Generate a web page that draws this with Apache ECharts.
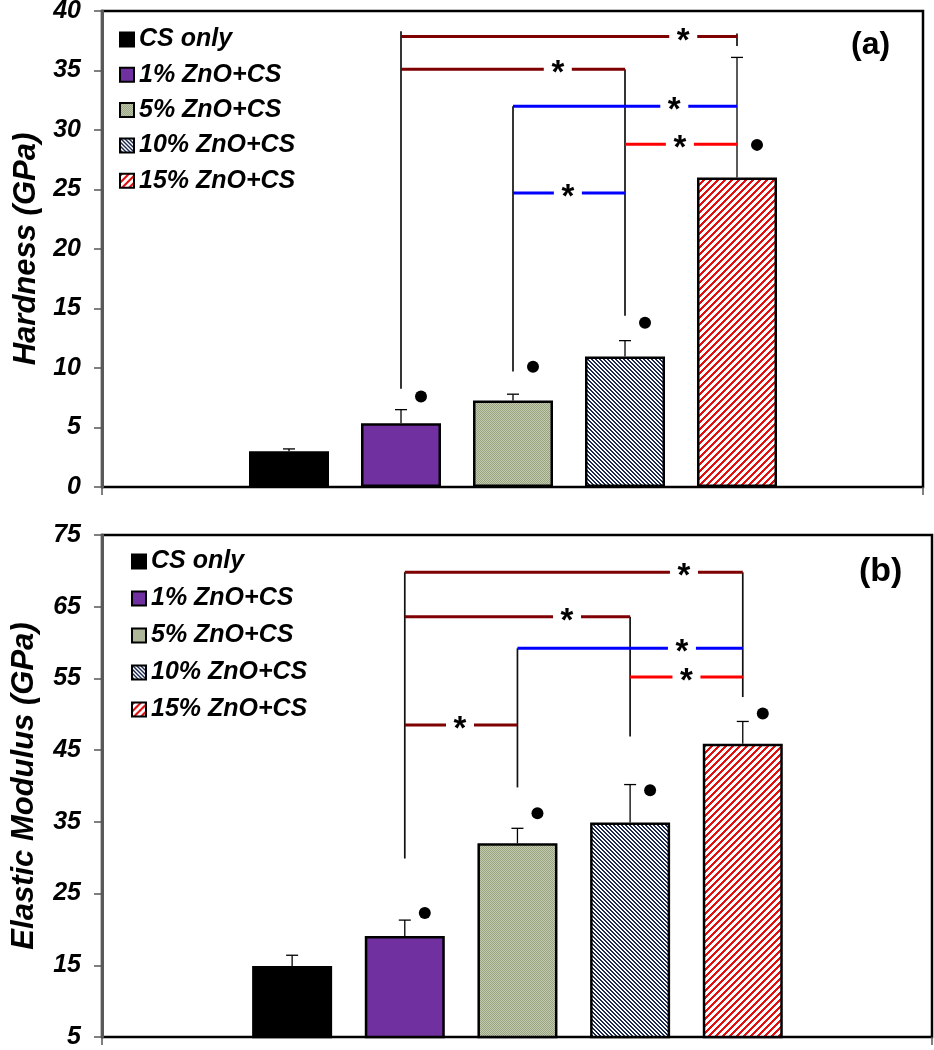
<!DOCTYPE html>
<html><head><meta charset="utf-8">
<script src="https://cdn.jsdelivr.net/npm/echarts@6/dist/echarts.min.js"></script>
<style>html,body{margin:0;padding:0;background:#fff}#c{width:934px;height:1050px}</style>
</head><body><div id="c"></div>
<script>
// ---------- data ----------
const categories = ['CS only', '1% ZnO+CS', '5% ZnO+CS', '10% ZnO+CS', '15% ZnO+CS'];

const hardness       = [3.0, 5.35, 7.27, 10.96, 26.0];
const hardnessErrTop = [3.2, 6.5, 7.8, 12.3, 36.1];
const hardnessDots   = [null, 7.6, 10.1, 13.8, 28.75];
// [fromCategory, toCategory, y, star position (fraction), colour]
const hardnessBrackets = [
  [1, 4, 37.85, 0.84, 'maroon'],
  [1, 3, 35.1, 0.70, 'maroon'],
  [2, 4, 32.0, 0.72, 'blue'],
  [3, 4, 28.8, 0.49, 'red'],
  [2, 3, 24.7, 0.49, 'blue']
];
// [category, yTop, yBottom]
const hardnessVerticals = [[1, 38.3, 8.25], [2, 32.0, 9.7], [3, 35.1, 14.4], [4, 38.1, 37.05]];

const modulus       = [14.9, 19.1, 32.0, 34.9, 45.9];
const modulusErrTop = [16.4, 21.3, 34.1, 40.2, 49.0];
const modulusDots   = [null, 22.3, 36.2, 39.4, 50.1];
const modulusBrackets = [
  [1, 4, 69.8, 0.826, 'maroon'],
  [1, 3, 63.6, 0.72, 'maroon'],
  [2, 4, 59.2, 0.73, 'blue'],
  [3, 4, 55.2, 0.50, 'red'],
  [1, 2, 48.5, 0.49, 'maroon']
];
const modulusVerticals = [[1, 69.8, 29.9], [2, 59.2, 39.8], [3, 63.6, 46.9], [4, 69.8, 52.4]];

const hardnessTicks = {min: 0, max: 40, interval: 5};
const modulusTicks  = {min: 5, max: 75, interval: 10};

// ---------- styles ----------
const FONT = '"Liberation Sans", Arial, sans-serif';
const bracketColors = {maroon: '#7f0000', blue: '#0000ff', red: '#ff0000'};

function makePattern(w, h, fn) {
  const c = document.createElement('canvas'); c.width = w; c.height = h;
  const g = c.getContext('2d');
  for (let x = 0; x < w; x++) for (let y = 0; y < h; y++) { g.fillStyle = fn(x, y); g.fillRect(x, y, 1, 1); }
  return {image: c, repeat: 'repeat'};
}
const fills = [
  '#000000',
  '#7030a0',
  makePattern(2, 2, (x, y) => ((x + y) % 2 === 0 ? '#97a27f' : '#c4cbb1')),
  makePattern(4, 4, (x, y) => (((x - y) % 4 + 4) % 4 < 2 ? '#1c2950' : '#ffffff')),
  makePattern(7, 7, (x, y) => ((x + y) % 7 < 3 ? '#e01010' : '#ffffff'))
];

const chart = echarts.init(document.getElementById('c'), null, {renderer: 'canvas'});

function frameX(grid) {
  return {gridIndex: grid, type: 'category', data: [''], boundaryGap: true,
    axisLine: {show: false}, axisLabel: {show: false},
    axisTick: {show: true, inside: false, length: 8, lineStyle: {color: '#555', width: 1.5}},
    splitLine: {show: false}};
}
function barX(grid) {
  return {gridIndex: grid, type: 'category', data: categories, show: false, boundaryGap: true};
}
function frameY(grid, t, name, gap) {
  return {gridIndex: grid, type: 'value', min: t.min, max: t.max, interval: t.interval,
    axisLine: {show: true, lineStyle: {color: '#595959', width: 3}}, z: 5,
    axisTick: {show: true, inside: false, length: 8, lineStyle: {color: '#555', width: 1.5}},
    axisLabel: {margin: 21, color: '#000', fontSize: 25, fontWeight: 'bold', fontStyle: 'italic', fontFamily: FONT},
    splitLine: {show: false},
    name: name, nameLocation: 'middle', nameRotate: 90, nameGap: gap,
    nameTextStyle: {color: '#000', fontSize: 31, fontWeight: 'bold', fontStyle: 'italic', fontFamily: FONT}};
}
function barY(grid, t) {
  return {gridIndex: grid, type: 'value', min: t.min, max: t.max, interval: t.interval, show: false, splitLine: {show: false}};
}

function panelSeries(xi, yi, vals, errTop, dots, brackets, verticals) {
  const out = [];
  categories.forEach((name, i) => {
    out.push({
      type: 'bar', name: name, xAxisIndex: xi, yAxisIndex: yi,
      barWidth: 80, barGap: '-100%',
      itemStyle: {color: fills[i], borderColor: '#000', borderWidth: 2.5},
      emphasis: {disabled: true},
      data: vals.map((v, j) => (j === i ? v : '-'))
    });
  });
  // error bars
  out.push({
    type: 'custom', xAxisIndex: xi, yAxisIndex: yi, z: 4, silent: true,
    encode: {x: 0, y: 1},
    data: vals.map((v, i) => [i, v]),
    renderItem: (params, api) => {
      const i = params.dataIndex;
      const p0 = api.coord([i, vals[i]]);
      const p1 = api.coord([i, errTop[i]]);
      const st = {stroke: '#000', lineWidth: 1.3};
      return {type: 'group', children: [
        {type: 'line', shape: {x1: p0[0], y1: p0[1], x2: p1[0], y2: p1[1]}, style: st},
        {type: 'line', shape: {x1: p1[0] - 6, y1: p1[1], x2: p1[0] + 6, y2: p1[1]}, style: st}
      ]};
    }
  });
  // vertical connectors
  out.push({
    type: 'custom', xAxisIndex: xi, yAxisIndex: yi, z: 5, silent: true,
    encode: {x: 0, y: 1},
    data: verticals.map(v => [v[0], v[1]]),
    renderItem: (params, api) => {
      const v = verticals[params.dataIndex];
      const a = api.coord([v[0], v[1]]), b = api.coord([v[0], v[2]]);
      return {type: 'line', shape: {x1: a[0], y1: a[1], x2: b[0], y2: b[1]}, style: {stroke: '#111', lineWidth: 1.7}};
    }
  });
  // significance brackets
  out.push({
    type: 'custom', xAxisIndex: xi, yAxisIndex: yi, z: 6, silent: true,
    encode: {x: 0, y: 1},
    data: brackets.map(b => [b[0], b[2]]),
    renderItem: (params, api) => {
      const br = brackets[params.dataIndex];
      const a = api.coord([br[0], br[2]]), b = api.coord([br[1], br[2]]);
      const sx = a[0] + (b[0] - a[0]) * br[3];
      const half = 14;
      const st = {stroke: bracketColors[br[4]], lineWidth: 3};
      return {type: 'group', children: [
        {type: 'line', shape: {x1: a[0], y1: a[1], x2: sx - half, y2: a[1]}, style: st},
        {type: 'line', shape: {x1: sx + half, y1: a[1], x2: b[0], y2: b[1]}, style: st},
        {type: 'text', style: {text: '*', x: sx, y: a[1] + 5, align: 'center', verticalAlign: 'middle',
          fontSize: 33, fontWeight: 'bold', fontFamily: FONT, fill: '#000'}}
      ]};
    }
  });
  // dots
  out.push({
    type: 'scatter', xAxisIndex: xi, yAxisIndex: yi, z: 6, silent: true,
    symbol: 'circle', symbolSize: 12, symbolOffset: [20, 0],
    itemStyle: {color: '#000', opacity: 1},
    data: dots.map((d, i) => (d == null ? [i, '-'] : [i, d]))
  });
  return out;
}

const legendText = {color: '#000', fontSize: 25, fontWeight: 'bold', fontStyle: 'italic', fontFamily: FONT, lineHeight: 25};

const option = {
  animation: false,
  backgroundColor: '#ffffff',
  title: [
    {text: '(a)', left: 851, top: 29, padding: 0, textStyle: {color: '#000', fontSize: 32, fontWeight: 'bold', fontFamily: FONT}},
    {text: '(b)', left: 859, top: 555, padding: 0, textStyle: {color: '#000', fontSize: 34, fontWeight: 'bold', fontFamily: FONT}}
  ],
  legend: [
    {orient: 'vertical', left: 119, top: 27, padding: 0, itemWidth: 14, itemHeight: 14, itemGap: 10.3,
      icon: 'rect', selectedMode: false, textStyle: legendText, data: categories},
    {orient: 'vertical', left: 131, top: 549, padding: 0, itemWidth: 14, itemHeight: 14, itemGap: 12,
      icon: 'rect', selectedMode: false, textStyle: legendText, data: categories}
  ],
  grid: [
    {left: 102, right: 11, top: 11, bottom: 563, show: true, borderColor: '#000', borderWidth: 2.5, outerBoundsMode: 'none', containLabel: false},
    {left: 233, width: 560, top: 11, bottom: 563, outerBoundsMode: 'none', containLabel: false},
    {left: 102, right: 2, top: 535, bottom: 13, show: true, borderColor: '#000', borderWidth: 2.5, outerBoundsMode: 'none', containLabel: false},
    {left: 235.8, width: 563.3, top: 535, bottom: 13, outerBoundsMode: 'none', containLabel: false}
  ],
  xAxis: [frameX(0), barX(1), frameX(2), barX(3)],
  yAxis: [
    frameY(0, hardnessTicks, 'Hardness (GPa)', 56),
    barY(1, hardnessTicks),
    frameY(2, modulusTicks, 'Elastic Modulus (GPa)', 62),
    barY(3, modulusTicks)
  ],
  series: [].concat(
    panelSeries(1, 1, hardness, hardnessErrTop, hardnessDots, hardnessBrackets, hardnessVerticals),
    panelSeries(3, 3, modulus, modulusErrTop, modulusDots, modulusBrackets, modulusVerticals)
  )
};
chart.setOption(option);
</script>
</body></html>
